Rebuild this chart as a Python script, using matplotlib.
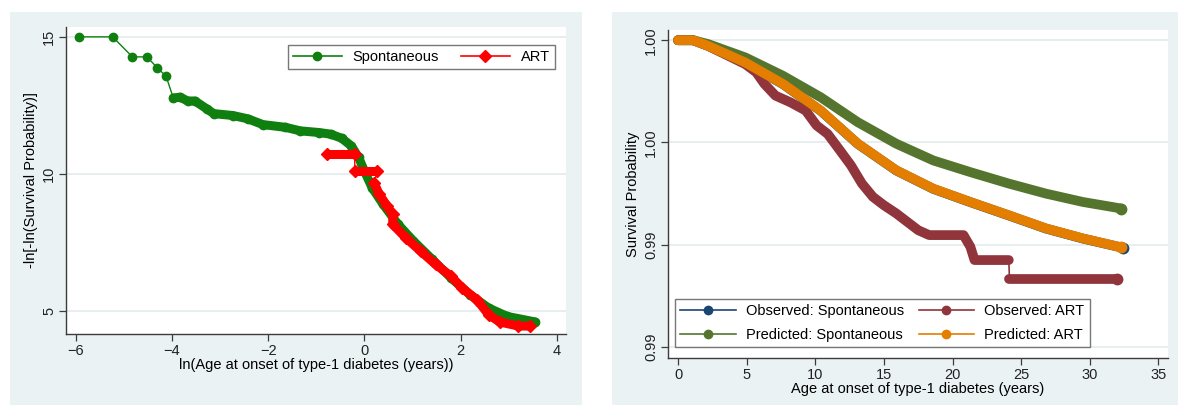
import numpy as np
import matplotlib.pyplot as plt
from matplotlib.patches import Rectangle
from matplotlib.lines import Line2D

plt.rcParams['font.family'] = ['Liberation Sans', 'DejaVu Sans']

# Left panel: log-log survival
spont_lnage = [-5.92, -5.23, -4.82, -4.52, -4.30, -4.12, -3.97, -3.83, -3.67, -3.52,
               -3.28, -3.13, -2.73, -2.42, -2.11, -1.64, -1.33, -0.94, -0.70, -0.47,
               -0.27, -0.12, 0.00, 0.16, 0.39, 0.70, 1.02, 1.41, 1.80, 2.19,
               2.58, 2.97, 3.55]
spont_loglog = [15.0, 15.0, 14.27, 14.27, 13.87, 13.56, 12.77, 12.80, 12.66, 12.66,
                12.38, 12.20, 12.13, 12.01, 11.80, 11.70, 11.57, 11.51, 11.45, 11.30,
                11.02, 10.60, 10.11, 9.50, 8.89, 8.16, 7.55, 6.88, 6.21, 5.60,
                5.11, 4.80, 4.60]
art_lnage = [-0.78, -0.20, -0.20, 0.27, 0.20, 0.31, 0.47, 0.59, 0.59, 0.86,
             1.17, 1.48, 1.80, 2.03, 2.34, 2.58, 2.81, 3.20, 3.45]
art_loglog = [10.74, 10.74, 10.09, 10.09, 9.68, 9.26, 8.83, 8.52, 8.16, 7.67,
              7.18, 6.70, 6.27, 5.84, 5.41, 4.87, 4.60, 4.45, 4.45]

# Right panel: survival probability by age
pred_age = [0, 1.1, 2.2, 4.9, 7.65, 10.4, 13.1, 15.9, 18.6, 21.3, 24.1, 26.8, 29.5, 32.3]
pred_spont = [1.0, 1.0, 0.99981, 0.99916, 0.99826, 0.99721, 0.99599, 0.99494,
              0.99412, 0.99355, 0.99299, 0.99250, 0.99209, 0.99177]
pred_art = [1.0, 1.0, 0.99972, 0.99891, 0.99786, 0.99656, 0.99494, 0.99364,
            0.99274, 0.99209, 0.99144, 0.99080, 0.99031, 0.98987]
obs_spont_age = [0, 1.1, 2.2, 4.9, 7.65, 10.4, 13.1, 15.9, 18.6, 21.3, 24.1, 26.8, 29.5, 32.4]
obs_spont = [1.0, 1.0, 0.99972, 0.99890, 0.99785, 0.99655, 0.99493, 0.99363,
             0.99273, 0.99208, 0.99143, 0.99079, 0.99030, 0.98985]
obs_art_age = [0, 1.1, 2.2, 4.9, 5.7, 6.3, 7.1, 8.2, 9.3, 10.1, 10.9, 11.8, 12.6, 13.4,
               14.2, 15.0, 15.9, 16.7, 17.5, 18.3, 20.8, 21.3, 21.6, 24.1, 24.15, 32.0]
obs_art = [1.0, 1.0, 0.99972, 0.99883, 0.99843, 0.99786, 0.99729, 0.99696, 0.99656,
           0.99583, 0.99542, 0.99461, 0.99388, 0.99299, 0.99234, 0.99193, 0.99153,
           0.99112, 0.99071, 0.99047, 0.99047, 0.98990, 0.98925, 0.98925, 0.98831, 0.98831]

right_yticks = [0.985, 0.990, 0.995, 1.000]
right_ytick_labels = ['0.99', '0.99', '1.00', '1.00']

bg = '#eaf2f3'
grid_c = '#e3ebed'
axis_c = '#3c3c3c'

fig = plt.figure(figsize=(11.84, 4.2), dpi=100)
fig.patches.append(Rectangle((10/1184, 15/420), 572/1184, 393/420, transform=fig.transFigure,
                             facecolor=bg, edgecolor='none', zorder=-5))
fig.patches.append(Rectangle((612/1184, 15/420), 566/1184, 393/420, transform=fig.transFigure,
                             facecolor=bg, edgecolor='none', zorder=-5))

ax1 = fig.add_axes([66/1184, 86/420, 500/1184, 307/420])
ax2 = fig.add_axes([668/1184, 62/420, 500/1184, 328/420])

def style(ax):
    ax.set_facecolor('white')
    for s in ['top', 'right']:
        ax.spines[s].set_visible(False)
    for s in ['left', 'bottom']:
        ax.spines[s].set_color(axis_c)
        ax.spines[s].set_linewidth(1.0)
    ax.tick_params(axis='both', direction='out', length=5, width=0.9, color=axis_c,
                   labelsize=10.5, labelcolor='#222222', pad=2)
    ax.tick_params(axis='y', labelrotation=90)
    for lab in ax.get_yticklabels():
        lab.set_va('center')
    ax.grid(axis='y', color=grid_c, linewidth=1.2)
    ax.set_axisbelow(True)

# ---- left panel
green = '#0f800f'
red = '#ff0000'
thick = dict(lw=6.5, solid_capstyle='round', solid_joinstyle='round')
ax1.plot(spont_lnage[6:], spont_loglog[6:], color=green, zorder=2, **thick)
ax1.plot(spont_lnage, spont_loglog, color=green, lw=1, marker='o', ms=6, zorder=3)
# dense markers form bands along the red steps; the drops between them stay thin
for a, b in [(0, 2), (2, 4), (4, len(art_lnage))]:
    ax1.plot(art_lnage[a:b], art_loglog[a:b], color=red, zorder=4, **thick)
ax1.plot(art_lnage, art_loglog, color=red, lw=1, marker='D', ms=6, zorder=5)
ax1.set_xlim(-6.2, 4.19)
ax1.set_ylim(4.16, 15.36)
ax1.set_xticks([-6, -4, -2, 0, 2, 4])
ax1.set_yticks([5, 10, 15])
style(ax1)
ax1.set_xlabel('ln(Age at onset of type-1 diabetes (years))', fontsize=10.5, labelpad=0)
ax1.set_ylabel('-ln[-ln(Survival Probability)]', fontsize=10.5, labelpad=3)
h1 = [Line2D([], [], color=green, lw=1.2, marker='o', ms=6),
      Line2D([], [], color=red, lw=1.2, marker='D', ms=6)]
leg1 = ax1.legend(h1, ['Spontaneous', 'ART'], ncol=2, loc='upper right',
                  bbox_to_anchor=(0.992, 0.965), fontsize=10.5, frameon=True, fancybox=False,
                  edgecolor='#555555', handlelength=3.4, handletextpad=0.7,
                  columnspacing=1.5, borderpad=0.35)
leg1.get_frame().set_linewidth(1.0)

# ---- right panel
navy = '#1a476f'
maroon = '#90353b'
fgreen = '#55752f'
orange = '#e37e00'
series = [(obs_spont_age, obs_spont, navy, [(0, len(obs_spont))]),
          (obs_art_age, obs_art, maroon, [(0, 24), (23, 25), (24, len(obs_art))]),
          (pred_age, pred_spont, fgreen, [(0, len(pred_spont))]),
          (pred_age, pred_art, orange, [(0, len(pred_art))])]
for z, (xa, ya, c, pieces) in enumerate(series):
    for a, b in pieces:
        w = 1.2 if b - a == 2 and xa[b - 1] - xa[a] < 0.2 else 7
        ax2.plot(xa[a:b], ya[a:b], color=c, lw=w, solid_capstyle='round',
                 solid_joinstyle='round', zorder=2 + z)
    ax2.plot(xa[-1:], ya[-1:], color=c, marker='o', ms=7.5, lw=0, zorder=2 + z)
ax2.set_xlim(-0.73, 35.7)
ax2.set_ylim(0.98446, 1.0005)
ax2.set_xticks([0, 5, 10, 15, 20, 25, 30, 35])
ax2.set_yticks(right_yticks)
ax2.set_yticklabels(right_ytick_labels)
style(ax2)
ax2.set_xlabel('Age at onset of type-1 diabetes (years)', fontsize=10.5, labelpad=0)
ax2.set_ylabel('Survival Probability', fontsize=10.5, labelpad=3)
h2 = [Line2D([], [], color=c, lw=1.2, marker='o', ms=6) for c in [navy, fgreen, maroon, orange]]
leg2 = ax2.legend(h2, ['Observed: Spontaneous', 'Predicted: Spontaneous',
                       'Observed: ART', 'Predicted: ART'], ncol=2, loc='lower left',
                  bbox_to_anchor=(0.0, 0.012), fontsize=10.5, frameon=True, fancybox=False,
                  edgecolor='#555555', handlelength=3.8, handletextpad=0.7,
                  columnspacing=1.0, borderpad=0.35, labelspacing=0.65)
leg2.get_frame().set_linewidth(1.0)

fig.savefig('out.png', dpi=100)
